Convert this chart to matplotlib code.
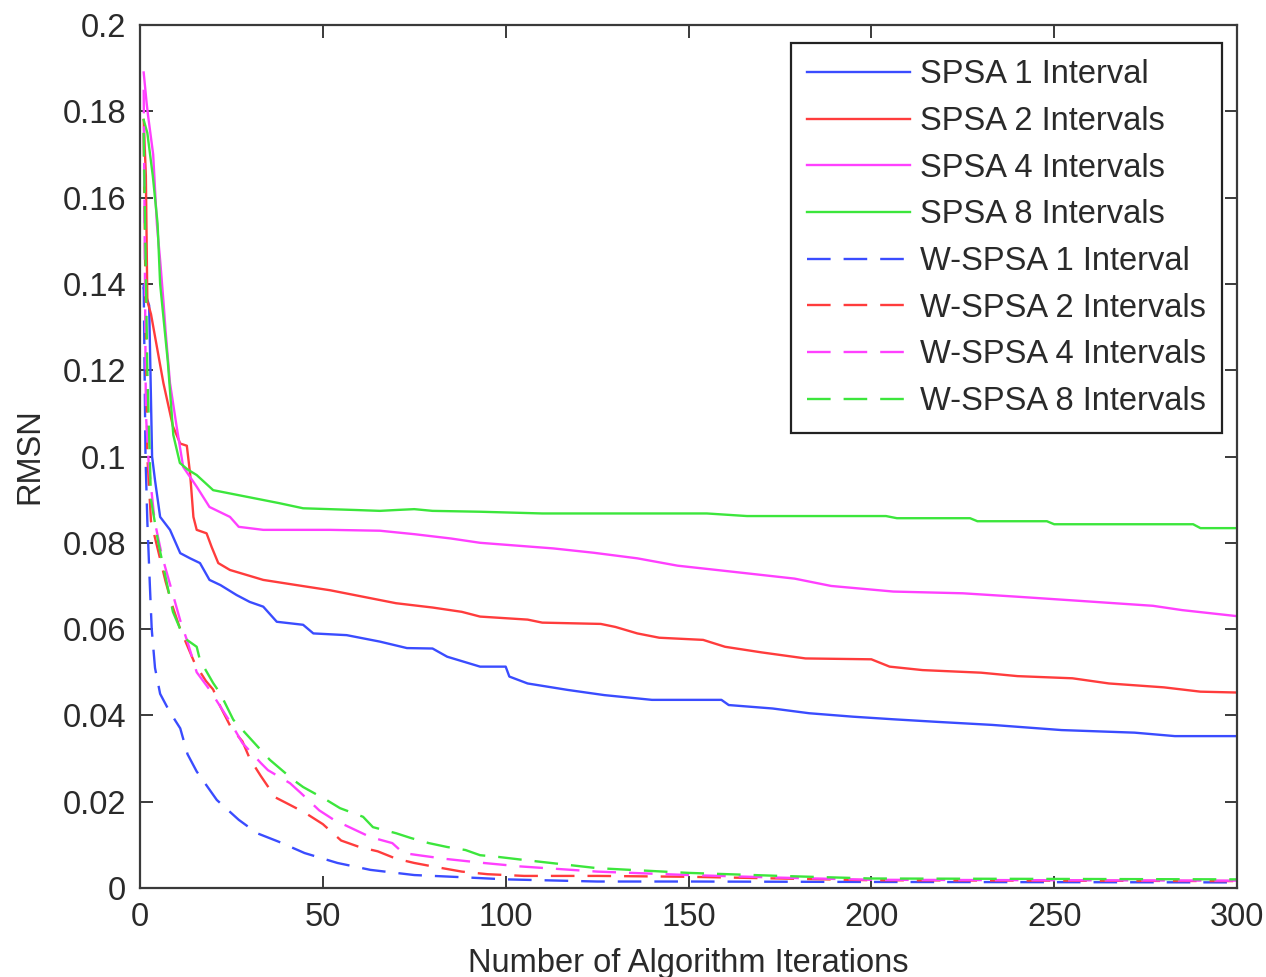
import matplotlib
matplotlib.use("Agg")
import matplotlib.pyplot as plt
from matplotlib.ticker import FormatStrFormatter

plt.rcParams['font.family'] = ['Liberation Sans', 'DejaVu Sans']

# ---- data ----
spsa1_x = [1, 2.5, 3.3, 4.1, 5.5, 8.2, 11, 13.7, 16.4, 19, 22, 26.4, 30, 33.7, 37.4, 44.6, 47.4,
           56.5, 65.6, 73, 80, 84, 93, 100, 101, 106, 117, 127, 140, 159, 161, 173, 183, 195,
           206, 218, 233, 252, 272, 283, 300]
spsa1_y = [0.139, 0.135, 0.100, 0.0945, 0.086, 0.083, 0.0776, 0.0764, 0.0753, 0.0714, 0.0702,
           0.0679, 0.0663, 0.0652, 0.0617, 0.0610, 0.0590, 0.0586, 0.0571, 0.0556, 0.0555,
           0.0536, 0.0513, 0.0513, 0.0490, 0.0474, 0.0459, 0.0447, 0.0436, 0.0436, 0.0424,
           0.0416, 0.0405, 0.0397, 0.0391, 0.0385, 0.0378, 0.0366, 0.0360, 0.0352, 0.0352]

spsa2_x = [1, 1.6, 2, 3, 6.4, 9, 11, 12.8, 13.7, 14.6, 15.5, 18.2, 19.6, 21.4, 24.6, 33.7, 42.8,
           52, 61, 70, 80, 88, 93, 106, 110, 126, 130, 136, 142, 154, 160, 170, 182, 200, 205,
           214, 230, 240, 255, 265, 280, 290, 300]
spsa2_y = [0.178, 0.165, 0.136, 0.133, 0.117, 0.107, 0.103, 0.1025, 0.096, 0.086, 0.083, 0.0822,
           0.079, 0.0753, 0.0737, 0.0714, 0.0702, 0.069, 0.0675, 0.066, 0.065, 0.064, 0.0629,
           0.0622, 0.0615, 0.0612, 0.0605, 0.059, 0.058, 0.0575, 0.0559, 0.0546, 0.0532, 0.053,
           0.0513, 0.0505, 0.0499, 0.0491, 0.0486, 0.0474, 0.0465, 0.0455, 0.0453]

spsa4_x = [1, 1.8, 2.2, 3.6, 4.6, 5.5, 6.4, 7, 8.2, 10, 11.8, 15.5, 19, 24.6, 27, 33.7, 52, 65.6,
           75, 85, 93, 113, 124, 136, 147, 162, 179, 189, 206, 225, 240, 256, 277, 285, 300]
spsa4_y = [0.189, 0.182, 0.179, 0.170, 0.154, 0.1455, 0.136, 0.129, 0.117, 0.107, 0.0976, 0.093,
           0.0883, 0.086, 0.0837, 0.083, 0.083, 0.0828, 0.082, 0.081, 0.080, 0.0787, 0.0777,
           0.0764, 0.0747, 0.0733, 0.0717, 0.070, 0.0687, 0.0683, 0.0675, 0.0666, 0.0654,
           0.0644, 0.063]

spsa8_x = [1, 2, 3.5, 4.8, 5.5, 6.2, 7.6, 9.1, 10.9, 13, 15.5, 20, 29, 38, 44.6, 59, 65.6, 70,
           75, 80, 93, 110, 155, 166, 204, 207, 227, 229, 248, 250, 288, 290, 300]
spsa8_y = [0.178, 0.175, 0.165, 0.154, 0.140, 0.134, 0.122, 0.105, 0.0985, 0.097, 0.0957, 0.0922,
           0.0907, 0.0892, 0.088, 0.0876, 0.0874, 0.0876, 0.0878, 0.0874, 0.0872, 0.0868,
           0.0868, 0.0862, 0.0862, 0.0857, 0.0857, 0.085, 0.085, 0.0843, 0.0843, 0.0834, 0.0834]

wspsa1_x = [1, 1.5, 2, 2.7, 3.2, 4.1, 5.5, 8, 11, 13, 15.5, 21, 27, 32, 38, 45, 54, 63, 75, 88,
            100, 125, 150, 200, 300]
wspsa1_y = [0.140, 0.100, 0.085, 0.070, 0.060, 0.051, 0.045, 0.041, 0.037, 0.031, 0.027, 0.0204,
            0.0158, 0.0127, 0.0107, 0.0081, 0.0058, 0.0042, 0.0030, 0.0025, 0.0020, 0.0015,
            0.0015, 0.0014, 0.0013]

wspsa2_x = [1, 2, 3, 5, 7, 9, 11, 13, 15, 18, 20, 22, 25, 28, 30, 33, 37, 40, 45, 50, 55, 60, 65,
            70, 75, 80, 88, 95, 105, 125, 150, 200, 300]
wspsa2_y = [0.175, 0.100, 0.085, 0.078, 0.071, 0.065, 0.060, 0.056, 0.052, 0.048, 0.046, 0.042,
            0.037, 0.034, 0.030, 0.026, 0.021, 0.0197, 0.0175, 0.0148, 0.011, 0.0095, 0.0085,
            0.0068, 0.0058, 0.0050, 0.0038, 0.0032, 0.0028, 0.0028, 0.0026, 0.0018, 0.0016]

wspsa4_x = [1, 1.6, 2.4, 4, 6, 8, 11, 13, 15.5, 19, 22, 25, 28, 33, 35, 41, 44, 49, 53, 59, 63,
            69, 72, 77, 84, 94, 104, 125, 150, 175, 200, 300]
wspsa4_y = [0.185, 0.110, 0.098, 0.085, 0.077, 0.071, 0.062, 0.057, 0.050, 0.046, 0.042, 0.038,
            0.0336, 0.029, 0.0273, 0.0243, 0.022, 0.018, 0.0158, 0.0134, 0.0118, 0.0104, 0.0081,
            0.0075, 0.0067, 0.0058, 0.0050, 0.0038, 0.0030, 0.0024, 0.0019, 0.0017]

wspsa8_x = [1, 2, 3, 5, 7, 9, 12, 15.5, 16.4, 20, 22, 25.5, 27.3, 33, 35.5, 42, 44.6, 51, 54.7,
            61, 63.7, 70, 74, 79, 84, 89, 93, 98, 105, 125, 150, 175, 200, 300]
wspsa8_y = [0.175, 0.120, 0.090, 0.080, 0.072, 0.064, 0.058, 0.0559, 0.0528, 0.0475, 0.045,
            0.039, 0.0373, 0.032, 0.0297, 0.025, 0.0234, 0.0204, 0.0185, 0.0165, 0.0141, 0.0127,
            0.0116, 0.0104, 0.0095, 0.0088, 0.0076, 0.0072, 0.0065, 0.0046, 0.0035, 0.0028,
            0.0022, 0.0020]

labels = ["SPSA 1 Interval", "SPSA 2 Intervals", "SPSA 4 Intervals", "SPSA 8 Intervals",
          "W-SPSA 1 Interval", "W-SPSA 2 Intervals", "W-SPSA 4 Intervals", "W-SPSA 8 Intervals"]
x_ticks = [0, 50, 100, 150, 200, 250, 300]
y_ticks = [0, 0.02, 0.04, 0.06, 0.08, 0.1, 0.12, 0.14, 0.16, 0.18, 0.2]
x_label = "Number of Algorithm Iterations"
y_label = "RMSN"

# ---- styling ----
col_b = '#3a4cff'
col_r = '#ff3c3c'
col_m = '#ff40ff'
col_g = '#3ce63c'
dash = (0, (10, 5.5))
lw = 1.7
fs = 23.5

fig = plt.figure(figsize=(12.66, 9.77), dpi=100)
ax = fig.add_axes([0.1106, 0.0911, 0.8665, 0.8833])

series = [
    (spsa1_x, spsa1_y, col_b, '-'),
    (spsa2_x, spsa2_y, col_r, '-'),
    (spsa4_x, spsa4_y, col_m, '-'),
    (spsa8_x, spsa8_y, col_g, '-'),
    (wspsa1_x, wspsa1_y, col_b, dash),
    (wspsa2_x, wspsa2_y, col_r, dash),
    (wspsa4_x, wspsa4_y, col_m, dash),
    (wspsa8_x, wspsa8_y, col_g, dash),
]
for (xs, ys, c, ls), lab in zip(series, labels):
    ax.plot(xs, ys, color=c, linestyle=ls, linewidth=lw, label=lab)

ax.set_xlim(0, 300)
ax.set_ylim(0, 0.2)
ax.set_xticks(x_ticks)
ax.set_yticks(y_ticks)
ax.yaxis.set_major_formatter(FormatStrFormatter('%g'))
ax.xaxis.set_major_formatter(FormatStrFormatter('%g'))

spine_col = '#3a3a3a'
for s in ax.spines.values():
    s.set_color(spine_col)
    s.set_linewidth(1.6)
ax.tick_params(direction='in', length=9, width=1.4, color=spine_col,
               top=True, right=True, labelsize=fs, labelcolor='#2a2a2a', pad=10)

ax.set_xlabel(x_label, fontsize=fs, color='#2a2a2a', labelpad=11)
ax.set_ylabel(y_label, fontsize=fs, color='#2a2a2a', labelpad=12)

leg = ax.legend(loc='upper right', bbox_to_anchor=(0.9863, 0.979), borderaxespad=0,
                fontsize=fs, frameon=True, fancybox=False, framealpha=1,
                edgecolor='#222222', handlelength=3.15, handletextpad=0.3,
                labelspacing=0.48, borderpad=0.5)
leg.get_frame().set_linewidth(1.6)
for t in leg.get_texts():
    t.set_color('#2a2a2a')

fig.savefig("out.png", dpi=100)
